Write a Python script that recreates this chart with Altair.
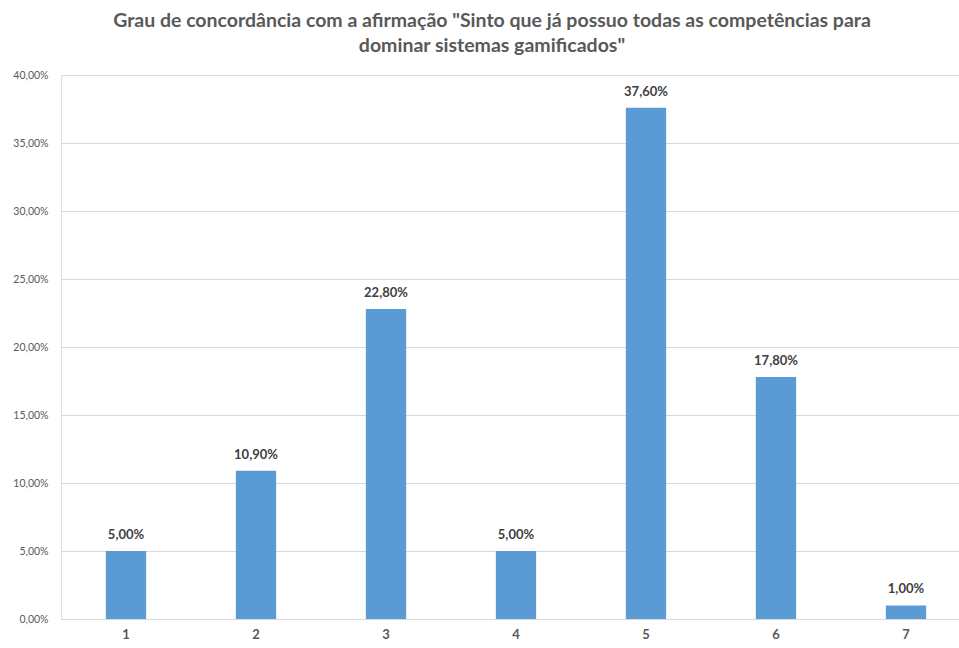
import altair as alt
import pandas as pd

categories = ["1", "2", "3", "4", "5", "6", "7"]
shares = [0.050, 0.109, 0.228, 0.050, 0.376, 0.178, 0.010]

df = pd.DataFrame({"nivel": categories, "valor": shares})

pct_expr = "replace(format({v}, '.2%'), '.', ',')"

base = alt.Chart(df).encode(
    x=alt.X(
        "nivel:N",
        sort=categories,
        scale=alt.Scale(paddingInner=0.69, paddingOuter=0.299, align=0.577),
        axis=alt.Axis(
            title=None, labelAngle=0, domain=False, ticks=False,
            labelFont="Lato", labelFontWeight="bold", labelFontSize=13,
            labelColor="#595959", labelPadding=9,
        ),
    ),
    y=alt.Y(
        "valor:Q",
        scale=alt.Scale(domain=[0, 0.40], nice=False),
        axis=alt.Axis(
            title=None, values=[i * 0.05 for i in range(9)],
            labelExpr=pct_expr.format(v="datum.value"),
            domain=False, ticks=False, gridColor="#d9d9d9", gridWidth=1,
            labelFont="Lato", labelFontSize=10.5, labelColor="#595959",
            labelPadding=13,
        ),
    ),
)

bars = base.mark_bar(color="#5b9bd5")

labels = base.mark_text(
    baseline="bottom", dy=-9, font="Lato", fontWeight="bold",
    fontSize=13, color="#404040",
).transform_calculate(
    rotulo=pct_expr.format(v="datum.valor")
).encode(text="rotulo:N")

chart = (bars + labels).properties(
    width=898,
    height=544,
    autosize=alt.AutoSizeParams(type="none"),
    padding={"left": 61, "top": 75, "right": 0, "bottom": 29},
    title=alt.TitleParams(
        text=[
            'Grau de concordância com a afirmação "Sinto que já possuo todas as competências para',
            'dominar sistemas gamificados"',
        ],
        font="Lato", fontSize=19.5, fontWeight="bold", color="#595959",
        anchor="middle", frame="group", dx=-18, offset=14, lineHeight=25,
    ),
).configure_view(stroke=None).configure(background="white")

chart.save("out.html", embed_options={"renderer": "svg", "actions": False})
